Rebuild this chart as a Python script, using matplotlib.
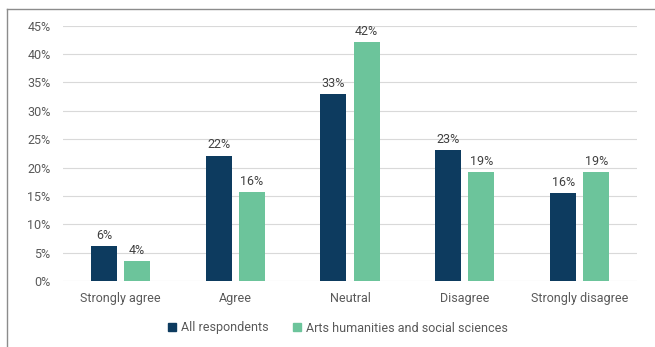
import matplotlib
matplotlib.use("Agg")
import matplotlib.pyplot as plt
import numpy as np
from matplotlib.lines import Line2D
from matplotlib.patches import Patch

categories = ["Strongly agree", "Agree", "Neutral", "Disagree", "Strongly disagree"]
all_resp = [6.2, 22.1, 32.9, 23.1, 15.5]
arts = [3.5, 15.7, 42.1, 19.2, 19.2]
all_labels = ["6%", "22%", "33%", "23%", "16%"]
arts_labels = ["4%", "16%", "42%", "19%", "19%"]
series_names = ["All respondents", "Arts humanities and social sciences"]
yticks = [0, 5, 10, 15, 20, 25, 30, 35, 40, 45]

c_dark = "#0d3b5f"
c_green = "#6cc49b"
txt = "#595959"

plt.rcParams['font.family'] = ['Roboto', 'DejaVu Sans']

W, H = 655, 347
fig = plt.figure(figsize=(W / 100, H / 100), dpi=100)
ax = fig.add_axes([63 / W, 1 - 281 / H, (637 - 63) / W, (281 - 25.7) / H])

x = np.arange(len(categories))
bw = 0.226
off = 0.144
b1 = ax.bar(x - off, all_resp, bw, color=c_dark, zorder=3)
b2 = ax.bar(x + off, arts, bw, color=c_green, zorder=3)

for bars, labs in ((b1, all_labels), (b2, arts_labels)):
    for r, l in zip(bars, labs):
        ax.annotate(l, (r.get_x() + r.get_width() / 2, r.get_height()),
                    xytext=(0, 3), textcoords="offset points",
                    ha="center", va="bottom", fontsize=9, color="#404040")

ax.set_xlim(-0.5, 4.5)
ax.set_ylim(0, 45)
ax.set_yticks(yticks)
ax.set_yticklabels([f"{v}%" for v in yticks])
ax.set_xticks(x)
ax.set_xticklabels(categories)
ax.tick_params(axis="both", length=0, labelsize=9, labelcolor=txt)
ax.tick_params(axis="y", pad=9)
ax.tick_params(axis="x", pad=8)
ax.grid(axis="y", color="#d9d9d9", linewidth=0.8, zorder=0)
for s in ax.spines.values():
    s.set_visible(False)

handles = [Patch(color=c_dark), Patch(color=c_green)]
fig.legend(handles, series_names, loc="center", bbox_to_anchor=(338 / W, 1 - 328 / H),
           ncol=2, frameon=False, fontsize=9, handlelength=0.6, handleheight=0.6,
           handletextpad=0.4, columnspacing=2.0, labelcolor=txt)

# outer frame lines (left and top)
fig.add_artist(Line2D([7 / W, 7 / W], [0, 1 - 9 / H], transform=fig.transFigure,
                      color="#8c8c8c", linewidth=1))
fig.add_artist(Line2D([7 / W, 1], [1 - 9 / H, 1 - 9 / H], transform=fig.transFigure,
                      color="#8c8c8c", linewidth=1))

fig.savefig("out.png", dpi=100, facecolor="white")
